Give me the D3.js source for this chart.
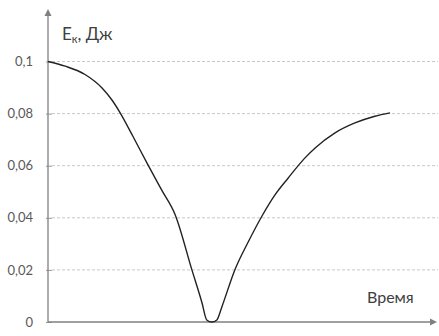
<!DOCTYPE html>
<html><head><meta charset="utf-8">
<script src="https://cdn.jsdelivr.net/npm/d3@7"></script>
<style>body{margin:0;background:#fff}svg{display:block}text{font-family:Lato,"Open Sans",sans-serif}</style>
</head><body><svg id="c" width="439" height="336"></svg>
<script>
const time = [0,0.44,0.95,1.38,1.63,1.85,2.18,2.56,2.92,3.26,3.69,3.95,4.07,4.2,4.33,4.46,4.79,5.14,5.48,5.82,6.16,6.59,6.85,7.36,7.87,8.38,8.77];
const energy = [0.1,0.0982,0.095,0.0899,0.0854,0.0803,0.0712,0.0604,0.0505,0.0412,0.02,0.0073,0.0008,0,0.0008,0.0059,0.02,0.0309,0.0405,0.0488,0.0553,0.063,0.0668,0.0726,0.0764,0.079,0.0803];
const yTicks = [0,0.02,0.04,0.06,0.08,0.1];
const yTickLabels = ["0","0,02","0,04","0,06","0,08","0,1"];
const yTitle = "E", ySub = "к", yUnit = ", Дж";
const xTitle = "Время";

const svg = d3.select("#c");
const x = d3.scaleLinear().domain([0,10]).range([48,438]);
const y = d3.scaleLinear().domain([0,0.1]).range([322,61.5]);

// grid
svg.append("g").selectAll("line").data(yTicks.slice(1)).join("line")
  .attr("x1",52).attr("x2",438).attr("y1",d=>y(d)).attr("y2",d=>y(d))
  .attr("stroke","#c8c8c8").attr("stroke-width",1).attr("stroke-dasharray","3,2");

// y axis ticks & labels
const ax = d3.axisLeft(y).tickValues(yTicks).tickFormat((d,i)=>yTickLabels[i]).tickSize(0).tickPadding(15);
const g = svg.append("g").attr("transform","translate(48,0)").call(ax);
g.select(".domain").remove();
g.selectAll("text").attr("font-size",13).attr("fill","#595959").attr("font-family","Lato,sans-serif");
g.selectAll(".tick").append("line").attr("x1",-2).attr("x2",4).attr("stroke","#999");

// axes lines
svg.append("line").attr("x1",48).attr("x2",48).attr("y1",322).attr("y2",12).attr("stroke","#808080").attr("stroke-width",1.3);
svg.append("path").attr("d","M44.5,16 L48,9 L51.5,16 Z").attr("fill","#808080");
svg.append("line").attr("x1",48).attr("x2",433).attr("y1",322).attr("y2",322).attr("stroke","#808080").attr("stroke-width",1.3);
svg.append("path").attr("d","M430,318.5 L437,322 L430,325.5 Z").attr("fill","#808080");

// curve
const line = d3.line().x((d,i)=>x(time[i])).y(d=>y(d)).curve(d3.curveMonotoneX);
svg.append("path").attr("d",line(energy)).attr("fill","none").attr("stroke","#222").attr("stroke-width",1.4);

// titles
const t = svg.append("text").attr("x",62).attr("y",40).attr("font-size",17).attr("fill","#404040");
t.append("tspan").text(yTitle);
t.append("tspan").attr("font-size",11).attr("dy",3).text(ySub);
t.append("tspan").attr("dy",-3).text(yUnit);
svg.append("text").attr("x",367).attr("y",303).attr("font-size",16).attr("fill","#404040").text(xTitle);
</script></body></html>
